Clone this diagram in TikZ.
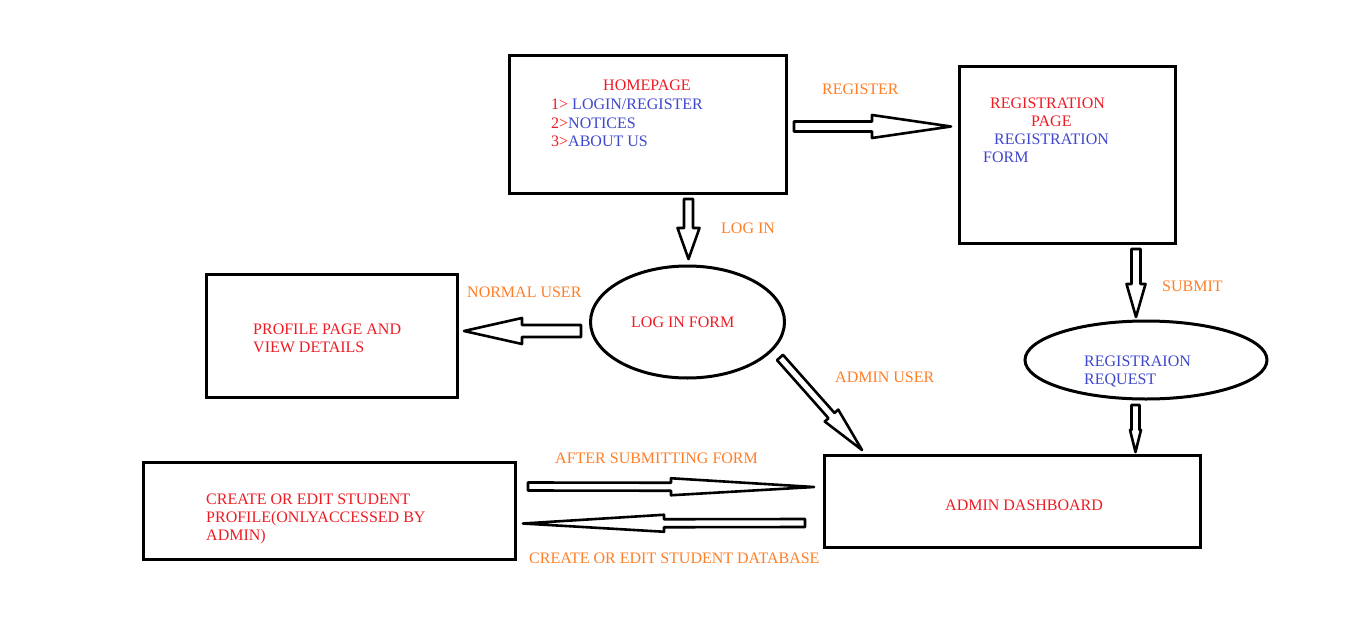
\documentclass[tikz,border=0pt]{standalone}
\usepackage{fontspec}
\setmainfont{Liberation Serif}
\usetikzlibrary{calc,shapes.geometric}
\definecolor{pred}{RGB}{237,28,36}
\definecolor{pblue}{RGB}{63,72,204}
\definecolor{porange}{RGB}{255,127,39}
% #1 tail, #2 tip, #3 shaft half width, #4 head half width, #5 head length
\newcommand\blockarrow[5]{%
  \coordinate (BAh) at ($(#2)!#5!(#1)$);
  \draw[barrow] ($(#1)!#3!90:(#2)$) -- ($(BAh)!#3!90:(#2)$) -- ($(BAh)!#4!90:(#2)$) -- (#2)
    -- ($(BAh)!#4!-90:(#2)$) -- ($(BAh)!#3!-90:(#2)$) -- ($(#1)!#3!-90:(#2)$) -- cycle;}
\begin{document}
\begin{tikzpicture}[x=1pt,y=-1pt,
  box/.style={draw, line width=3pt, inner sep=0pt, rectangle},
  oval/.style={draw, line width=3pt, inner sep=0pt, ellipse},
  barrow/.style={draw, line width=2.6pt, fill=white, line join=round},
  txt/.style={font=\fontsize{16}{18}\selectfont, anchor=base west, inner sep=0pt},
  lbl/.style={txt, text=porange}]
\fill[white] (0,0) rectangle (1360,618);
\useasboundingbox (0,0) rectangle (1360,618);

% shapes
\node[box, minimum width=277pt, minimum height=137pt] (home) at (647.5,124.5) {};
\node[box, minimum width=216pt, minimum height=176pt] (reg) at (1067,155) {};
\node[box, minimum width=251pt, minimum height=123pt] (prof) at (331.5,335.5) {};
\node[box, minimum width=372pt, minimum height=97pt] (create) at (329,510.5) {};
\node[box, minimum width=376pt, minimum height=92pt] (admin) at (1012,501) {};
\node[oval, minimum width=194pt, minimum height=112pt] (login) at (687.5,322) {};
\node[oval, minimum width=242pt, minimum height=78pt] (req) at (1146,360) {};

% texts
\node[txt, text=pred] (t1) at (603,91) {HOMEPAGE};
\node[txt] (t2) at (551,110) {\textcolor{pred}{1>} \textcolor{pblue}{LOGIN/REGISTER}};
\node[txt] (t3) at (551,128) {\textcolor{pred}{2>}\textcolor{pblue}{NOTICES}};
\node[txt] (t4) at (551,146) {\textcolor{pred}{3>}\textcolor{pblue}{ABOUT US}};

\node[txt, text=pred] (r1) at (990,108) {REGISTRATION};
\node[txt, text=pred] (r2) at (1031,126) {PAGE};
\node[txt, text=pblue] (r3) at (994,144) {REGISTRATION};
\node[txt, text=pblue] (r4) at (983,162) {FORM};

\node[txt, text=pred] (l1) at (631,327) {LOG IN FORM};
\node[txt, text=pred] (p1) at (253,334) {PROFILE PAGE AND};
\node[txt, text=pred] (p2) at (253,352) {VIEW DETAILS};
\node[txt, text=pblue] (q1) at (1084,366) {REGISTRAION};
\node[txt, text=pblue] (q2) at (1084,384) {REQUEST};
\node[txt, text=pred] (a1) at (945,510) {ADMIN DASHBOARD};
\node[txt, text=pred] (c1) at (206,504) {CREATE OR EDIT STUDENT};
\node[txt, text=pred] (c2) at (206,522) {PROFILE(ONLYACCESSED BY};
\node[txt, text=pred] (c3) at (206,540) {ADMIN)};

% connector labels
\node[lbl] (L1) at (822,95) {REGISTER};
\node[lbl] (L2) at (721,233) {LOG IN};
\node[lbl] (L3) at (467,297) {NORMAL USER};
\node[lbl] (L4) at (835,382) {ADMIN USER};
\node[lbl] (L5) at (1162,291) {SUBMIT};
\node[lbl] (L6) at (555,463) {AFTER SUBMITTING FORM};
\node[lbl] (L7) at (529,563) {CREATE OR EDIT STUDENT DATABASE};

% connector end points
\coordinate (e1a) at (794,126.5);  \coordinate (e1b) at (951,126.5);
\coordinate (e2a) at (688.5,199);  \coordinate (e2b) at (688.5,259);
\coordinate (e3a) at (581,331);    \coordinate (e3b) at (464,331);
\coordinate (e4a) at (780,357.5);  \coordinate (e4b) at (862,450);
\coordinate (e5a) at (1136,249);   \coordinate (e5b) at (1136,317);
\coordinate (e6a) at (1135.5,405); \coordinate (e6b) at (1135.5,452);
\coordinate (e7a) at (528,486.5);  \coordinate (e7b) at (814,487);
\coordinate (e8a) at (805,523);    \coordinate (e8b) at (523,523.5);

% block arrows
\blockarrow{e1a}{e1b}{5pt}{11.5pt}{79pt}
\blockarrow{e2a}{e2b}{4.5pt}{11pt}{31pt}
\blockarrow{e3a}{e3b}{6pt}{13pt}{58pt}
\blockarrow{e4a}{e4b}{4pt}{9pt}{46pt}
\blockarrow{e5a}{e5b}{4.5pt}{9.5pt}{33pt}
\blockarrow{e6a}{e6b}{4pt}{5.5pt}{22pt}
\blockarrow{e7a}{e7b}{4pt}{8.5pt}{143pt}
\blockarrow{e8a}{e8b}{4pt}{8.5pt}{141pt}
\end{tikzpicture}
\end{document}
